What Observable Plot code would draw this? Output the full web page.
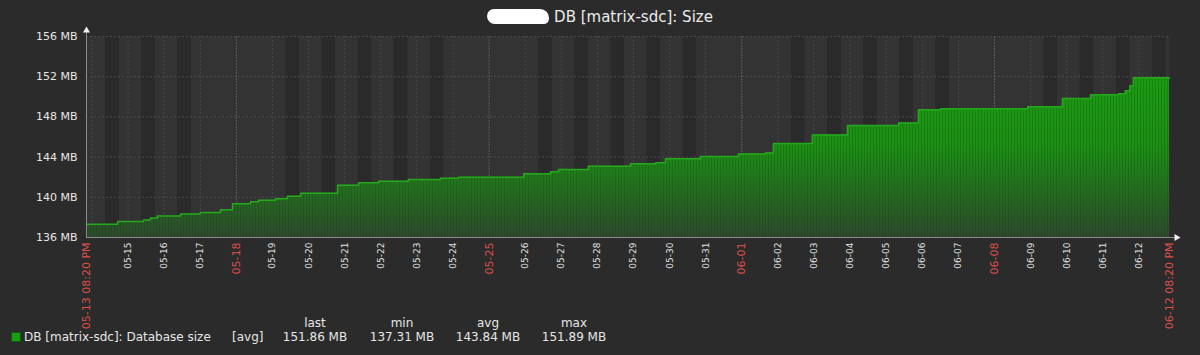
<!DOCTYPE html>
<html><head><meta charset="utf-8">
<script src="https://cdn.jsdelivr.net/npm/d3@7"></script>
<script src="https://cdn.jsdelivr.net/npm/@observablehq/plot@0.6"></script>
<style>
html,body{margin:0;padding:0;background:#2b2b2b;}
#wrap{position:relative;width:1200px;height:355px;font-family:"DejaVu Sans",sans-serif;color:#f2f2f2;overflow:hidden;background:#2b2b2b}
#chart{position:absolute;left:0;top:0}
#title{position:absolute;top:8px;left:0;width:1200px;text-align:center;font-size:15px;color:#ececec;white-space:nowrap}
.blob{display:inline-block;width:62px;height:15px;background:#fff;border-radius:8px 10px 6px 9px;vertical-align:-2px;margin-right:5px}
.lg{position:absolute;font-size:12px;color:#e6e6e6;white-space:nowrap;line-height:14px}
.c{transform:translateX(-50%)}
.sq{position:absolute;left:11px;top:332px;width:8px;height:8px;background:#1a9c11;border:1px solid #0f5a0a}
</style></head>
<body>
<div id="wrap">
  <div id="chart"></div>
  <div id="title"><span class="blob"></span>DB [matrix-sdc]: Size</div>
  <div id="legend"></div>
</div>
<script>
// ---- data ----
const startTime = "2025-05-13T20:20Z";
const endTime   = "2025-06-12T20:20Z";
const times = [
 "2025-05-13T20:20Z","2025-05-14T17:00Z","2025-05-15T10:15Z","2025-05-15T14:50Z","2025-05-15T19:30Z",
 "2025-05-16T10:50Z","2025-05-17T00:00Z","2025-05-17T13:25Z","2025-05-17T21:25Z","2025-05-18T09:20Z",
 "2025-05-18T14:40Z","2025-05-19T02:00Z","2025-05-19T09:55Z","2025-05-19T18:40Z","2025-05-20T19:15Z",
 "2025-05-21T09:10Z","2025-05-21T22:30Z","2025-05-22T18:20Z","2025-05-23T15:40Z","2025-05-24T03:40Z",
 "2025-05-25T23:00Z","2025-05-26T16:50Z","2025-05-26T22:10Z","2025-05-27T18:00Z","2025-05-28T22:00Z",
 "2025-05-29T14:40Z","2025-05-29T21:15Z","2025-05-30T20:30Z","2025-05-31T21:45Z","2025-06-01T15:45Z",
 "2025-06-01T21:00Z","2025-06-02T22:55Z","2025-06-03T22:15Z","2025-06-05T08:10Z","2025-06-05T21:25Z",
 "2025-06-06T12:05Z","2025-06-08T22:00Z","2025-06-09T21:10Z","2025-06-10T15:50Z","2025-06-11T10:20Z",
 "2025-06-11T15:00Z","2025-06-11T18:00Z","2025-06-11T20:20Z","2025-06-12T20:20Z"
];
const values = [
 137.31,137.60,137.75,137.95,138.15,
 138.35,138.50,138.75,139.35,139.55,
 139.70,139.85,140.10,140.40,141.20,
 141.45,141.60,141.77,141.90,142.00,
 142.34,142.55,142.77,143.10,143.33,
 143.43,143.83,144.05,144.30,144.40,
 145.35,146.20,147.15,147.40,148.72,
 148.80,149.00,149.83,150.20,150.30,
 150.60,151.10,151.90,151.86
];
const yTicks = [136,140,144,148,152,156];
const redDays = ["2025-05-18","2025-05-25","2025-06-01","2025-06-08"];
const seriesName = "DB [matrix-sdc]: Database size";
const legendFunc = "[avg]";
const statNames = ["last","min","avg","max"];
const statValues = ["151.86 MB","137.31 MB","143.84 MB","151.89 MB"];

// ---- build ----
const start = new Date(startTime), end = new Date(endTime);
const data = times.map((t,i)=>({t:new Date(t), v:values[i]}));
const allDays = d3.utcDay.range(d3.utcDay.ceil(start), end);
const redSet = new Set(redDays.map(d=>+new Date(d+"T00:00Z")));
const labelDays = allDays.filter(d => +d - +start > 12*3600e3 && !redSet.has(+d));
const redTicks = allDays.filter(d => redSet.has(+d));
const work = d3.utcDay.range(d3.utcDay.floor(start), end)
  .filter(d => d.getUTCDay()>=1 && d.getUTCDay()<=5)
  .map(d => ({x1:d3.utcHour.offset(d,9), x2:d3.utcHour.offset(d,18)}))
  .filter(w => w.x2 > start && w.x1 < end);

const ns = "http://www.w3.org/2000/svg";
function defs(index, scales, values, dim){
  const g = document.createElementNS(ns,"defs");
  const top = dim.marginTop, bot = dim.height - dim.marginBottom;
  g.innerHTML = `<linearGradient id="gfill" gradientUnits="userSpaceOnUse" x1="0" y1="${top}" x2="0" y2="${bot}">
     <stop offset="0" stop-color="#1aa010"/>
     <stop offset="0.55" stop-color="#1c8e15"/>
     <stop offset="1" stop-color="#2d4b2c"/>
   </linearGradient>
   <pattern id="stripes" patternUnits="userSpaceOnUse" width="3" height="10">
     <rect x="0" y="0" width="1" height="10" fill="#000" fill-opacity="0.12"/>
   </pattern>`;
  return g;
}
const fmtDay = d3.utcFormat("%m-%d");
const fmtFull = d3.utcFormat("%m-%d %I:%M %p");
const red = "#dc4f4a";

const chart = Plot.plot({
  width:1200, height:355,
  marginLeft:86, marginRight:31, marginTop:36, marginBottom:118,
  style:{background:"transparent", color:"#e6e6e6", fontFamily:"DejaVu Sans, sans-serif"},
  x:{type:"utc", domain:[start,end], label:null},
  y:{domain:[136,156], label:null},
  marks:[
    defs,
    Plot.frame({fill:"#333333", stroke:null}),
    Plot.rect(work, {x1:"x1", x2:"x2", fill:"#2a2a2a"}),
    Plot.gridY(yTicks, {stroke:"#4a4a4a", strokeOpacity:1, strokeDasharray:"2,2"}),
    Plot.gridX(allDays.filter(d=>!redSet.has(+d)), {stroke:"#474747", strokeOpacity:1, strokeDasharray:"2,2"}),
    Plot.gridX(redTicks, {stroke:"#5c5c5c", strokeOpacity:1, strokeDasharray:"2,1"}),
    Plot.areaY(data, {x:"t", y1:()=>136, y2:"v", curve:"step-after", fill:"url(#gfill)"}),
    Plot.areaY(data, {x:"t", y1:()=>136, y2:"v", curve:"step-after", fill:"url(#stripes)"}),
    Plot.lineY(data, {x:"t", y:"v", curve:"step-after", stroke:"#25a81c", strokeWidth:1.5}),
    Plot.ruleX([start], {stroke:"#8c8c8c", insetTop:-8}),
    Plot.ruleY([136], {stroke:"#8c8c8c", insetRight:-7}),
    Plot.dot([0], {frameAnchor:"top-left", symbol:"triangle", r:2.6, fill:"#f0f0f0", stroke:null, dy:-6}),
    Plot.dot([0], {frameAnchor:"bottom-right", symbol:"triangle", r:2.6, fill:"#f0f0f0", stroke:null, dx:7, rotate:90}),
    Plot.axisY(yTicks, {label:null, tickSize:0, tickPadding:9, fontSize:11, fill:"#e6e6e6", tickFormat:d=>`${d} MB`}),
    Plot.axisX(labelDays, {label:null, tickSize:0, tickPadding:5, tickRotate:-90, fontSize:9, fill:"#e0e0e0", tickFormat:fmtDay}),
    Plot.axisX(redTicks, {label:null, tickSize:0, tickPadding:5, tickRotate:-90, fontSize:11, fill:red, tickFormat:fmtDay}),
    Plot.axisX([start,end], {label:null, tickSize:0, tickPadding:5, tickRotate:-90, fontSize:11, fill:red, tickFormat:fmtFull})
  ]
});
document.getElementById("chart").appendChild(chart);

// ---- legend ----
const lg = document.getElementById("legend");
const centers = [315,402,488,574];
let html = `<div class="sq"></div><div class="lg" style="left:24px;top:330px">${seriesName}</div>
<div class="lg" style="left:232px;top:330px">${legendFunc}</div>`;
statNames.forEach((s,i)=>{ html += `<div class="lg c" style="left:${centers[i]}px;top:316px">${s}</div>`; });
statValues.forEach((s,i)=>{ html += `<div class="lg c" style="left:${centers[i]}px;top:330px">${s}</div>`; });
lg.innerHTML = html;
</script>
</body></html>
